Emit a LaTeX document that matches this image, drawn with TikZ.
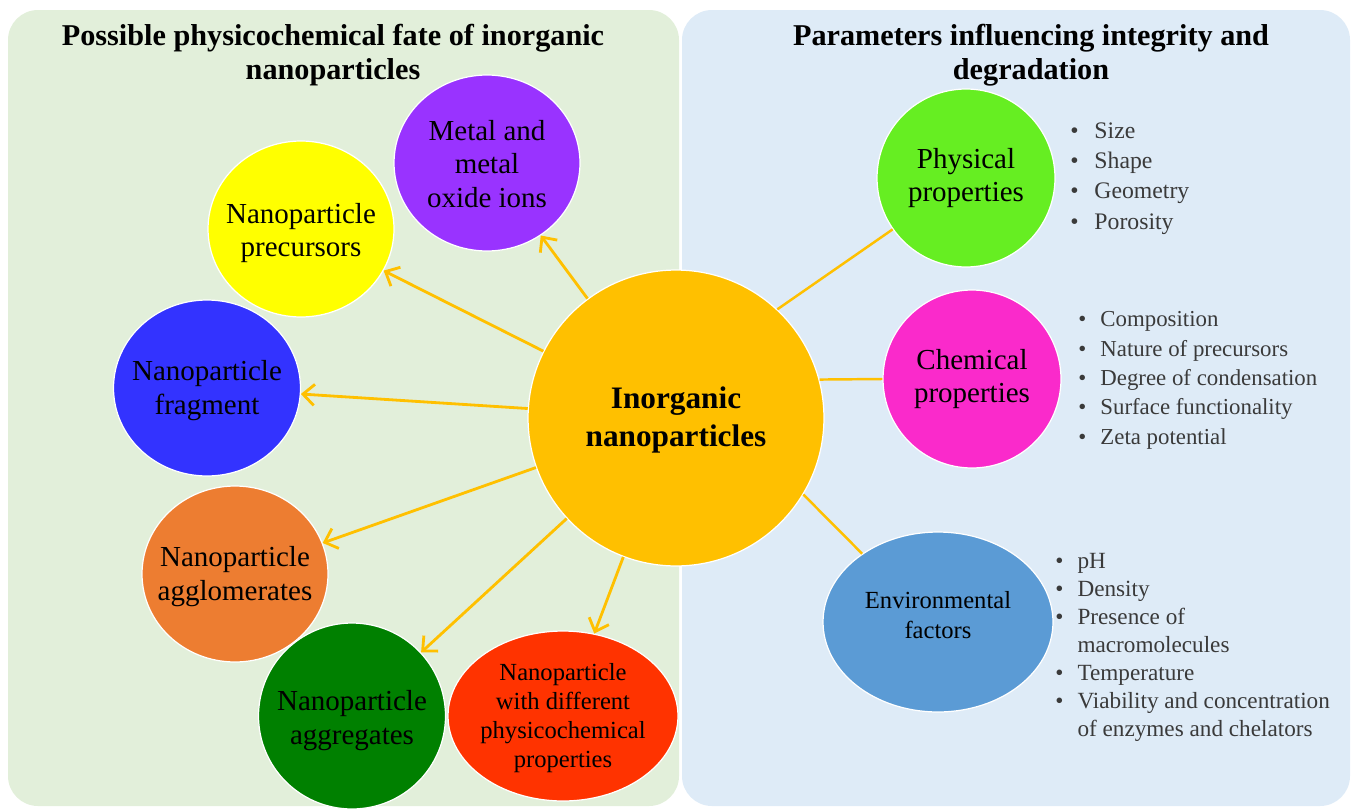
\documentclass[tikz,border=0pt]{standalone}
\usepackage{fontspec}
\setmainfont{Liberation Serif}
\usetikzlibrary{shapes.geometric, arrows.meta}

\definecolor{panelgreen}{HTML}{E2EFDA}
\definecolor{panelblue}{HTML}{DEEBF7}
\definecolor{coregold}{HTML}{FFC000}
\definecolor{ionviolet}{HTML}{9933FF}
\definecolor{precyellow}{HTML}{FFFF00}
\definecolor{fragblue}{HTML}{3333FF}
\definecolor{agglorange}{HTML}{ED7D31}
\definecolor{aggrgreen}{HTML}{008000}
\definecolor{diffred}{HTML}{FF3300}
\definecolor{physlime}{HTML}{66EE22}
\definecolor{chemmagenta}{HTML}{FA2ACB}
\definecolor{envblue}{HTML}{5B9BD5}
\definecolor{listgray}{HTML}{3A3A3A}

\begin{document}
\begin{tikzpicture}[x=0.02cm, y=-0.02cm,
  blob/.style={ellipse, draw=white, line width=0.7pt, inner sep=0pt},
  caption/.style={align=center, font=\fontsize{16.5}{19.3}\selectfont},
  heading/.style={align=center, font=\bfseries\fontsize{17.2}{19.3}\selectfont},
  items/.style={anchor=north west, inner sep=0pt, text=listgray},
  fate/.style={draw=coregold, line width=1.6pt, -{Straight Barb[length=6.5pt, width=12pt, line width=1.6pt]}},
  link/.style={draw=coregold, line width=1.4pt}]
\useasboundingbox (0,0) rectangle (1351,808);

% two panels
\fill[panelgreen, rounded corners=0.6cm] (8,10) rectangle (679,806);
\fill[panelblue, rounded corners=0.6cm] (682,10) rectangle (1350,806);

\node[heading] (lefthead) at (333,55) {Possible physicochemical fate of inorganic\\nanoparticles};
\node[heading] (righthead) at (1031,55) {Parameters influencing integrity and\\degradation};

% central particle
\node[blob, fill=coregold, minimum size=5.92cm] (core) at (676,418) {};
\node[align=center, font=\bfseries\fontsize{17.8}{21.5}\selectfont] (coretext) at (676,420) {Inorganic\\nanoparticles};

% possible fates
\node[blob, fill=ionviolet, minimum width=3.72cm, minimum height=3.52cm] (ions) at (487,163) {};
\node[caption] (ionstext) at (487,164) {Metal and\\metal\\oxide ions};
\node[blob, fill=precyellow, minimum width=3.72cm, minimum height=3.52cm] (prec) at (301,229) {};
\node[caption] (prectext) at (301,233) {Nanoparticle\\precursors};
\node[blob, fill=fragblue, minimum width=3.74cm, minimum height=3.52cm] (frag) at (207,388) {};
\node[caption] (fragtext) at (207,391) {Nanoparticle\\fragment};
\node[blob, fill=agglorange, minimum width=3.72cm, minimum height=3.52cm] (aggl) at (235,574) {};
\node[caption] (aggltext) at (235,577) {Nanoparticle\\agglomerates};
\node[blob, fill=aggrgreen, minimum width=3.74cm, minimum height=3.72cm] (aggr) at (352,716) {};
\node[caption] (aggrtext) at (352,721) {Nanoparticle\\aggregates};
\node[blob, fill=diffred, minimum width=4.6cm, minimum height=3.4cm] (diff) at (563,716) {};
\node[caption, font=\fontsize{14}{16.4}\selectfont] (difftext) at (563,718) {Nanoparticle\\with different\\physicochemical\\properties};

% influencing parameters
\node[blob, fill=physlime, minimum size=3.56cm] (phys) at (966,178) {};
\node[caption] (phystext) at (966,178) {Physical\\properties};
\node[blob, fill=chemmagenta, minimum size=3.56cm] (chem) at (972,379) {};
\node[caption] (chemtext) at (972,379) {Chemical\\properties};
\node[blob, fill=envblue, minimum width=4.6cm, minimum height=3.6cm] (env) at (938,622) {};
\node[caption, font=\fontsize{14}{17.5}\selectfont] (envtext) at (938,615) {Environmental\\factors};

% bullet lists
\node[items, font=\fontsize{13.5}{17.2}\selectfont] (physlist) at (1070,117) {%
  \begin{tabular}{@{}l@{\hspace{9pt}}l@{}}
  \textbullet & Size\\
  \textbullet & Shape\\
  \textbullet & Geometry\\
  \textbullet & Porosity
  \end{tabular}};
\node[items, font=\fontsize{13}{16.7}\selectfont] (chemlist) at (1078,306) {%
  \begin{tabular}{@{}l@{\hspace{8pt}}l@{}}
  \textbullet & Composition\\
  \textbullet & Nature of precursors\\
  \textbullet & Degree of condensation\\
  \textbullet & Surface functionality\\
  \textbullet & Zeta potential
  \end{tabular}};
\node[items, font=\fontsize{13.2}{16}\selectfont] (envlist) at (1055,548) {%
  \begin{tabular}{@{}l@{\hspace{8pt}}l@{}}
  \textbullet & pH\\
  \textbullet & Density\\
  \textbullet & Presence of\\
              & macromolecules\\
  \textbullet & Temperature\\
  \textbullet & Viability and concentration\\
              & of enzymes and chelators
  \end{tabular}};

% arrows to the fates
\draw[fate] (core) -- (ions);
\draw[fate] (core) -- (prec);
\draw[fate] (core) -- (frag);
\draw[fate] (core) -- (aggl);
\draw[fate] (core) -- (aggr);
\draw[fate] (core) -- (diff);

% plain links to the parameters
\draw[link] (core.47) -- (phys.215);
\draw[link] (core.15) -- (chem.180);
\draw[link] (core.-31) -- (env.138);
\end{tikzpicture}
\end{document}
